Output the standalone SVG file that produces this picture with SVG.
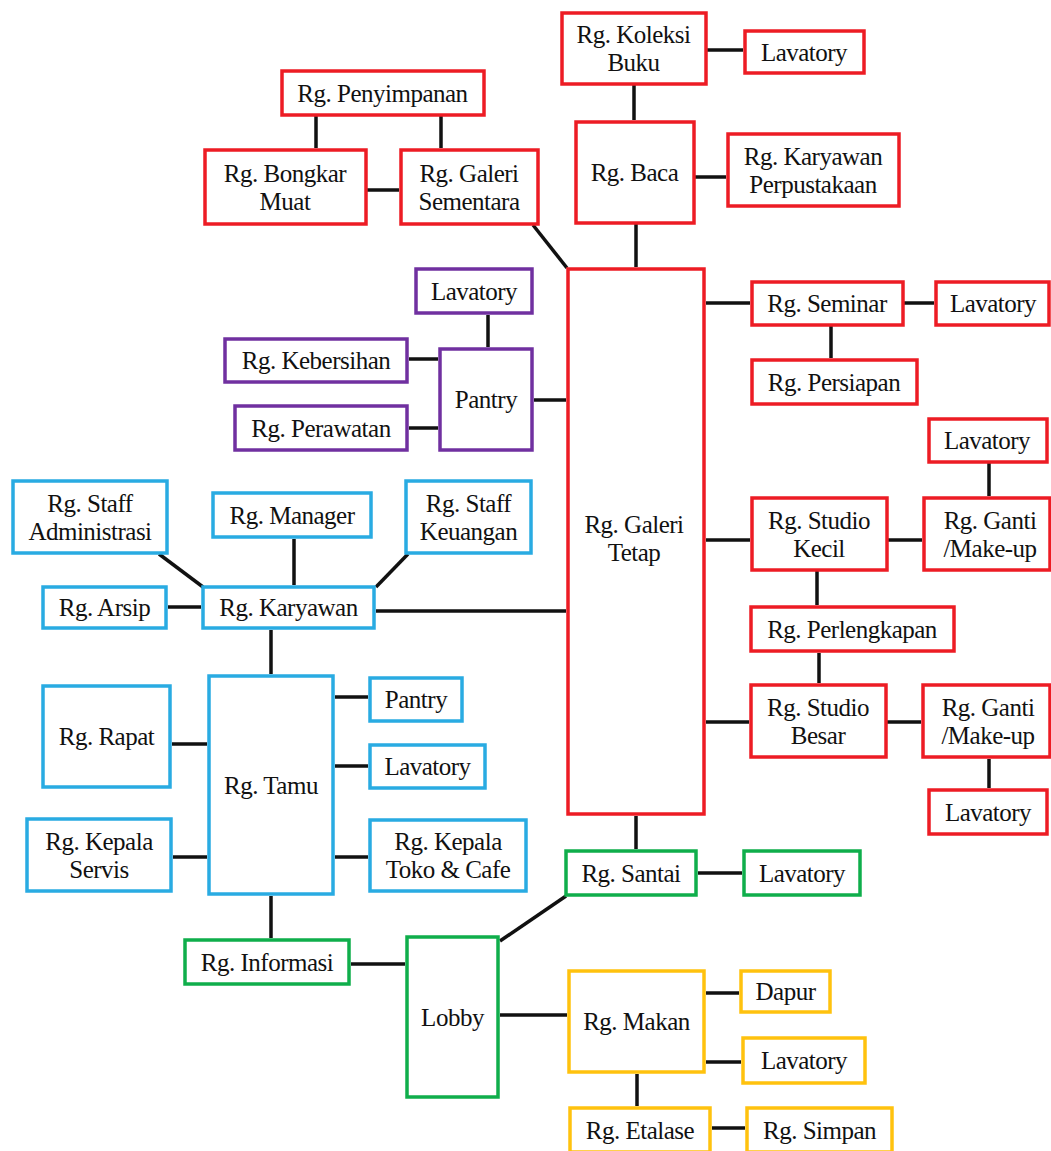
<svg xmlns="http://www.w3.org/2000/svg" width="1051" height="1151" viewBox="0 0 1051 1151">
<style>
rect{fill:#fff;stroke-width:3.5}
.r rect{stroke:#ed1c24}
.p rect{stroke:#7030a0}
.b rect{stroke:#29abe2}
.g rect{stroke:#0fae4b}
.y rect{stroke:#ffc20e}
text{font-family:"Liberation Serif","Times New Roman",serif;font-size:25px;letter-spacing:-0.5px;text-anchor:middle;fill:#111}
#connectors line{stroke:#111;stroke-width:3.5}
</style>
<rect x="0" y="0" width="1051" height="1151" style="fill:#fff;stroke:none"/>
<g id="connectors">
<line x1="634" y1="85" x2="634" y2="120"/>
<line x1="707" y1="50" x2="743" y2="50"/>
<line x1="695" y1="177" x2="726" y2="177"/>
<line x1="636" y1="224" x2="636" y2="267"/>
<line x1="316" y1="116" x2="316" y2="148"/>
<line x1="441" y1="116" x2="441" y2="148"/>
<line x1="367" y1="190" x2="399" y2="190"/>
<line x1="533" y1="225" x2="567" y2="268"/>
<line x1="488" y1="315" x2="488" y2="347"/>
<line x1="409" y1="359" x2="438" y2="359"/>
<line x1="409" y1="428" x2="438" y2="428"/>
<line x1="534" y1="400" x2="566" y2="400"/>
<line x1="706" y1="303" x2="750" y2="303"/>
<line x1="904" y1="303" x2="934" y2="303"/>
<line x1="831" y1="326" x2="831" y2="358"/>
<line x1="989" y1="463" x2="989" y2="496"/>
<line x1="706" y1="540" x2="750" y2="540"/>
<line x1="888" y1="540" x2="922" y2="540"/>
<line x1="817" y1="571" x2="817" y2="605"/>
<line x1="819" y1="653" x2="819" y2="683"/>
<line x1="706" y1="722" x2="749" y2="722"/>
<line x1="887" y1="722" x2="921" y2="722"/>
<line x1="989" y1="759" x2="989" y2="788"/>
<line x1="636" y1="816" x2="636" y2="849"/>
<line x1="698" y1="873" x2="742" y2="873"/>
<line x1="500" y1="941" x2="566" y2="896"/>
<line x1="351" y1="964" x2="405" y2="964"/>
<line x1="271" y1="896" x2="271" y2="938"/>
<line x1="271" y1="630" x2="271" y2="674"/>
<line x1="376" y1="611" x2="566" y2="611"/>
<line x1="168" y1="607" x2="201" y2="607"/>
<line x1="294" y1="539" x2="294" y2="585"/>
<line x1="159" y1="554" x2="203" y2="587"/>
<line x1="408" y1="554" x2="376" y2="587"/>
<line x1="172" y1="744" x2="207" y2="744"/>
<line x1="173" y1="857" x2="207" y2="857"/>
<line x1="335" y1="697" x2="368" y2="697"/>
<line x1="335" y1="766" x2="368" y2="766"/>
<line x1="335" y1="857" x2="368" y2="857"/>
<line x1="500" y1="1015" x2="567" y2="1015"/>
<line x1="706" y1="993" x2="739" y2="993"/>
<line x1="706" y1="1062" x2="741" y2="1062"/>
<line x1="637" y1="1074" x2="637" y2="1106"/>
<line x1="712" y1="1128" x2="745" y2="1128"/>
</g>
<g class="r">
<g id="koleksi"><rect x="562" y="13" width="144" height="71"/><text x="633.5" y="42.5">Rg. Koleksi<tspan x="633.5" dy="28">Buku</tspan></text></g>
<g id="lav1"><rect x="745" y="31" width="119" height="42"/><text x="804" y="60.5">Lavatory</text></g>
<g id="baca"><rect x="576" y="122" width="118" height="101"/><text x="634.5" y="181">Rg. Baca</text></g>
<g id="kperpus"><rect x="728" y="134" width="171" height="72"/><text x="813" y="164.5">Rg. Karyawan<tspan x="813" dy="28">Perpustakaan</tspan></text></g>
<g id="penyimpanan"><rect x="282" y="71" width="202" height="44"/><text x="382.5" y="101.5">Rg. Penyimpanan</text></g>
<g id="bongkar"><rect x="205" y="150" width="161" height="74"/><text x="285" y="181.5">Rg. Bongkar<tspan x="285" dy="28">Muat</tspan></text></g>
<g id="sementara"><rect x="401" y="150" width="137" height="74"/><text x="469" y="181.5">Rg. Galeri<tspan x="469" dy="28">Sementara</tspan></text></g>
<g id="galeritetap"><rect x="568" y="269" width="136" height="545"/><text x="634" y="533">Rg. Galeri<tspan x="634" dy="28">Tetap</tspan></text></g>
<g id="seminar"><rect x="752" y="282" width="151" height="43"/><text x="827" y="312">Rg. Seminar</text></g>
<g id="lavseminar"><rect x="936" y="282" width="113" height="43"/><text x="993" y="312">Lavatory</text></g>
<g id="persiapan"><rect x="752" y="360" width="165" height="44"/><text x="834" y="391">Rg. Persiapan</text></g>
<g id="lavganti1"><rect x="929" y="419" width="118" height="43"/><text x="987" y="449">Lavatory</text></g>
<g id="ganti1"><rect x="924" y="498" width="126" height="72"/><text x="990" y="528.5">Rg. Ganti<tspan x="990" dy="28">/Make-up</tspan></text></g>
<g id="studiokecil"><rect x="752" y="498" width="135" height="72"/><text x="819" y="528.5">Rg. Studio<tspan x="819" dy="28">Kecil</tspan></text></g>
<g id="perlengkapan"><rect x="751" y="607" width="203" height="44"/><text x="852" y="638">Rg. Perlengkapan</text></g>
<g id="studiobesar"><rect x="751" y="685" width="135" height="72"/><text x="818" y="715.5">Rg. Studio<tspan x="818" dy="28">Besar</tspan></text></g>
<g id="ganti2"><rect x="923" y="685" width="127" height="72"/><text x="988" y="715.5">Rg. Ganti<tspan x="988" dy="28">/Make-up</tspan></text></g>
<g id="lavganti2"><rect x="929" y="790" width="118" height="44"/><text x="988" y="820.5">Lavatory</text></g>
</g>
<g class="p">
<g id="lavpurple"><rect x="416" y="269" width="116" height="44"/><text x="474" y="299.5">Lavatory</text></g>
<g id="kebersihan"><rect x="225" y="339" width="182" height="43"/><text x="316" y="369">Rg. Kebersihan</text></g>
<g id="pantryp"><rect x="440" y="349" width="92" height="101"/><text x="486" y="408">Pantry</text></g>
<g id="perawatan"><rect x="235" y="406" width="172" height="44"/><text x="321" y="436.5">Rg. Perawatan</text></g>
</g>
<g class="b">
<g id="admin"><rect x="13" y="481" width="154" height="72"/><text x="90" y="511.5">Rg. Staff<tspan x="90" dy="28">Administrasi</tspan></text></g>
<g id="manager"><rect x="213" y="493" width="158" height="44"/><text x="292" y="523.5">Rg. Manager</text></g>
<g id="keuangan"><rect x="406" y="481" width="125" height="72"/><text x="468.5" y="511.5">Rg. Staff<tspan x="468.5" dy="28">Keuangan</tspan></text></g>
<g id="arsip"><rect x="43" y="587" width="123" height="41"/><text x="104.5" y="616">Rg. Arsip</text></g>
<g id="karyawan"><rect x="203" y="587" width="171" height="41"/><text x="288.5" y="616">Rg. Karyawan</text></g>
<g id="tamu"><rect x="209" y="676" width="124" height="218"/><text x="271" y="793.5">Rg. Tamu</text></g>
<g id="rapat"><rect x="43" y="686" width="127" height="101"/><text x="106.5" y="745">Rg. Rapat</text></g>
<g id="servis"><rect x="27" y="819" width="144" height="72"/><text x="99" y="849.5">Rg. Kepala<tspan x="99" dy="28">Servis</tspan></text></g>
<g id="pantryb"><rect x="370" y="678" width="92" height="43"/><text x="416" y="708">Pantry</text></g>
<g id="lavb"><rect x="370" y="745" width="115" height="43"/><text x="427.5" y="775">Lavatory</text></g>
<g id="toko"><rect x="370" y="820" width="156" height="71"/><text x="448" y="850">Rg. Kepala<tspan x="448" dy="28">Toko &amp; Cafe</tspan></text></g>
</g>
<g class="g">
<g id="santai"><rect x="566" y="851" width="130" height="44"/><text x="631" y="881.5">Rg. Santai</text></g>
<g id="lavgreen"><rect x="744" y="851" width="116" height="44"/><text x="802" y="881.5">Lavatory</text></g>
<g id="informasi"><rect x="185" y="940" width="164" height="44"/><text x="267" y="970.5">Rg. Informasi</text></g>
<g id="lobby"><rect x="407" y="937" width="91" height="160"/><text x="452.5" y="1025.5">Lobby</text></g>
</g>
<g class="y">
<g id="makan"><rect x="569" y="971" width="135" height="101"/><text x="636.5" y="1030">Rg. Makan</text></g>
<g id="dapur"><rect x="741" y="971" width="89" height="41"/><text x="785.5" y="1000">Dapur</text></g>
<g id="lavyellow"><rect x="743" y="1038" width="122" height="45"/><text x="804" y="1069">Lavatory</text></g>
<g id="etalase"><rect x="570" y="1108" width="140" height="44"/><text x="640" y="1138.5">Rg. Etalase</text></g>
<g id="simpan"><rect x="747" y="1108" width="145" height="44"/><text x="819.5" y="1138.5">Rg. Simpan</text></g>
</g>
</svg>
